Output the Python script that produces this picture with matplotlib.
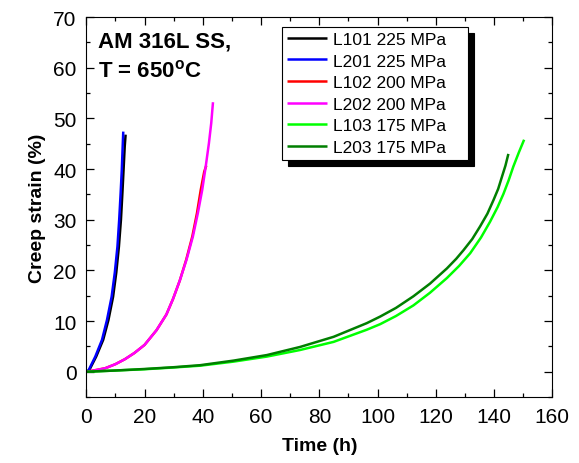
import matplotlib
matplotlib.use("Agg")
import matplotlib.pyplot as plt
from matplotlib.ticker import MultipleLocator

plt.rcParams['font.family'] = ['Liberation Sans', 'DejaVu Sans']
plt.rcParams['mathtext.fontset'] = 'custom'
plt.rcParams['mathtext.rm'] = 'Liberation Sans'
plt.rcParams['mathtext.bf'] = 'Liberation Sans:bold'

# creep curves (time in h, strain in %)
t_l101 = [0, 1.0, 3.4, 5.8, 7.6, 9.2, 10.3, 11.2, 11.9, 12.4, 12.8, 13.2, 13.5]
e_l101 = [0, 0.3, 3.0, 6.3, 10.2, 14.8, 19.6, 24.7, 30.0, 35.3, 39.9, 44.5, 46.8]

t_l201 = [0, 0.8, 3.1, 5.4, 7.1, 8.7, 9.8, 10.7, 11.3, 11.8, 12.2, 12.5, 12.7]
e_l201 = [0, 0.3, 3.0, 6.3, 10.2, 14.8, 19.6, 24.7, 30.0, 35.3, 39.9, 44.5, 47.4]

t_l102 = [0, 3, 6.5, 10, 13.3, 16.5, 20, 24.1, 27.5, 29.8, 32.1, 34.3, 36.4, 38.0, 39.3, 40.5, 41.2]
e_l102 = [0, 0.3, 0.7, 1.5, 2.5, 3.7, 5.3, 8.2, 11.3, 14.4, 18.0, 22.1, 26.7, 31.3, 35.9, 39.5, 40.7]

t_l202 = [0, 3, 6.5, 10, 13.3, 16.5, 20, 24.1, 27.5, 29.8, 32.1, 34.4, 36.6, 38.3, 39.8, 41.0, 42.1, 42.9, 43.5]
e_l202 = [0, 0.3, 0.7, 1.5, 2.5, 3.7, 5.3, 8.2, 11.3, 14.4, 18.0, 22.1, 26.7, 31.3, 35.9, 40.5, 45.1, 49.1, 53.2]

t_l103 = [0, 10, 20, 30, 39.1, 50.5, 62, 73.4, 84.9, 96.3, 100.9, 106.3, 112.3, 118, 123.8, 128, 131.8, 135.5,
          138.6, 141.2, 143.2, 145, 146.6, 148.5, 150.3]
e_l103 = [0, 0.25, 0.5, 0.85, 1.2, 2.0, 3.0, 4.3, 5.9, 8.3, 9.4, 11.0, 13.1, 15.6, 18.5, 20.9, 23.4, 26.5,
          29.6, 32.5, 35.1, 37.8, 40.5, 43.3, 45.8]

t_l203 = [0, 10, 20, 30, 39.1, 50.5, 62, 73.4, 84.9, 96.3, 100.9, 106.3, 112.3, 118, 123.8, 127, 129.5, 132.5,
          135.2, 137.7, 139.8, 141.4, 142.7, 143.9, 144.9]
e_l203 = [0, 0.25, 0.55, 0.9, 1.3, 2.2, 3.3, 4.9, 6.9, 9.6, 10.9, 12.6, 14.9, 17.4, 20.4, 22.3, 24.0, 26.2,
          28.7, 31.2, 33.9, 36.1, 38.5, 40.7, 43.0]

series = [
    (t_l101, e_l101, 'L101 225 MPa', 'black'),
    (t_l201, e_l201, 'L201 225 MPa', '#0000ff'),
    (t_l102, e_l102, 'L102 200 MPa', '#ff0000'),
    (t_l202, e_l202, 'L202 200 MPa', '#ff00ff'),
    (t_l103, e_l103, 'L103 175 MPa', '#00ff00'),
    (t_l203, e_l203, 'L203 175 MPa', '#007f00'),
]

fig, ax = plt.subplots(figsize=(5.79, 4.64), dpi=100)
fig.subplots_adjust(left=0.149, right=0.954, top=0.961, bottom=0.142)

for t, e, label, color in series:
    ax.plot(t, e, color=color, lw=1.8, label=label, solid_capstyle='butt', solid_joinstyle='round')

ax.set_xlim(0, 160)
ax.set_ylim(-5, 70)
ax.xaxis.set_major_locator(MultipleLocator(20))
ax.xaxis.set_minor_locator(MultipleLocator(10))
ax.yaxis.set_major_locator(MultipleLocator(10))
ax.yaxis.set_minor_locator(MultipleLocator(5))
ax.tick_params(which='both', direction='in', top=True, right=True, labelsize=15, width=0.9)
ax.tick_params(which='major', length=6, pad=7)
ax.tick_params(which='minor', length=3)

ax.set_xlabel('Time (h)', fontsize=14, fontweight='bold', labelpad=8)
ax.set_ylabel('Creep strain (%)', fontsize=14, fontweight='bold', labelpad=5)

ax.text(0.025, 0.965, 'AM 316L SS,\nT = 650$^\\mathbf{o}$C', transform=ax.transAxes,
        fontsize=16, fontweight='bold', va='top', ha='left', linespacing=1.5)

leg = ax.legend(loc='upper left', bbox_to_anchor=(0.42, 0.6, 0.4, 0.375), mode='expand',
                fontsize=12.5, fancybox=False, edgecolor='black', framealpha=1,
                shadow={'ox': 4.3, 'oy': -4.3, 'color': 'black', 'alpha': 1},
                handlelength=2.3, handletextpad=0.35, labelspacing=0.37,
                borderpad=0.3, borderaxespad=0)
leg.get_frame().set_linewidth(0.8)

fig.savefig('out.png', dpi=100)
